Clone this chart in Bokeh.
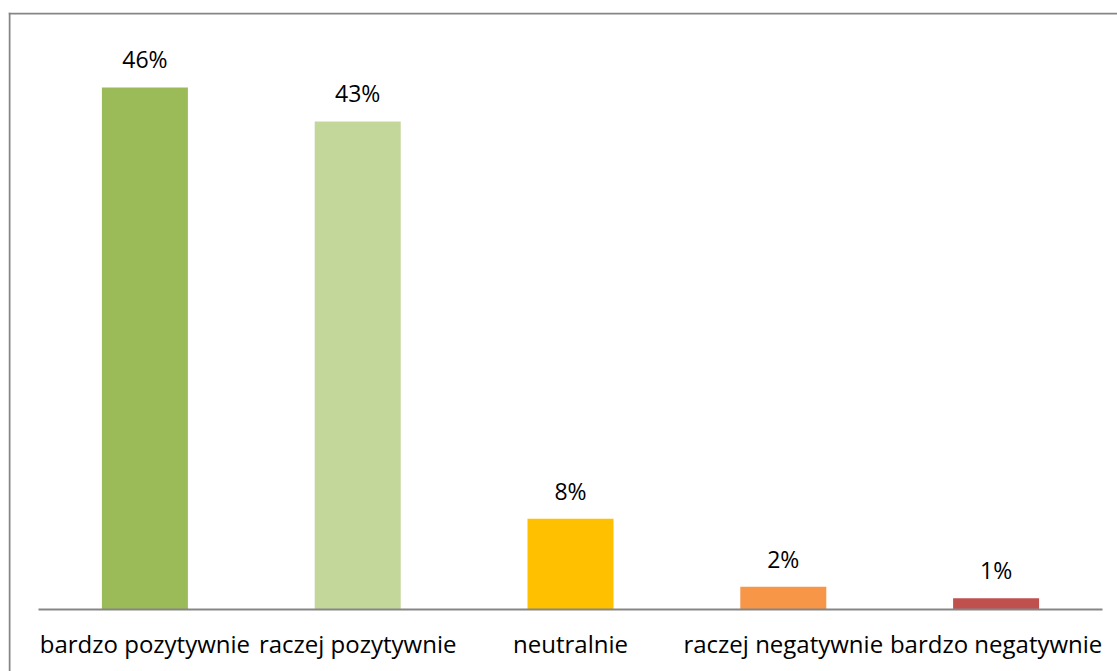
from bokeh.plotting import figure
from bokeh.models import ColumnDataSource, Span, Range1d
from bokeh.core.properties import value
from bokeh.embed import file_html
from bokeh.resources import INLINE

# Survey answers and their shares (%)
categories = ["bardzo pozytywnie", "raczej pozytywnie", "neutralnie",
              "raczej negatywnie", "bardzo negatywnie"]
shares = [46, 43, 8, 2, 1]
bar_colors = ["#9BBB59", "#C4D79B", "#FFC000", "#F79646", "#C0504D"]

W, H = 1117, 671
FRAME_LEFT, FRAME_TOP = 8, 12          # canvas px where the plotting frame starts
SLOT_PX = 212.8                         # width of one category slot in px
FIRST_CENTER_PX = 144.4                 # canvas x of the first category centre
BASE_PX = 609                           # canvas y of the zero line
PX_PER_PCT = 11.35                      # vertical scale

x_start = (FRAME_LEFT - FIRST_CENTER_PX) / SLOT_PX
x_end = (W - FIRST_CENTER_PX) / SLOT_PX
y_end = (BASE_PX - FRAME_TOP) / PX_PER_PCT
y_start = -(H - BASE_PX) / PX_PER_PCT

xs = list(range(len(categories)))
src = ColumnDataSource(dict(
    x=xs, top=shares, color=bar_colors, cat=categories,
    lbl=[f"{v}%" for v in shares], zero=[0] * len(xs),
))

p = figure(width=W, height=H, output_backend="svg", toolbar_location=None,
           x_range=Range1d(x_start, x_end), y_range=Range1d(y_start, y_end),
           min_border_left=FRAME_LEFT, min_border_top=FRAME_TOP,
           min_border_right=0, min_border_bottom=0)
p.axis.visible = False
p.grid.visible = False
p.outline_line_color = None
p.background_fill_color = "white"
p.border_fill_color = "white"

FONT = value("Open Sans")

p.vbar(x="x", top="top", bottom=0, width=86 / SLOT_PX, color="color",
       line_color=None, source=src)

# zero line under the bars
p.segment(x0=[xs[0] - 0.5], x1=[xs[-1] + 0.5], y0=[0], y1=[0],
          line_color="#868686", line_width=2)

# value labels above bars
p.text(x="x", y="top", text="lbl", source=src, text_font=FONT,
       text_font_size="23px", text_color="#000000", text_align="center",
       text_baseline="middle", y_offset=-28)

# category labels under the zero line
p.text(x="x", y="zero", text="cat", source=src, text_font=FONT,
       text_font_size="24px", text_color="#000000", text_align="center",
       text_baseline="alphabetic", y_offset=34)

# chart border (left and top edges)
border_x = (9 - FIRST_CENTER_PX) / SLOT_PX
border_y = (BASE_PX - 13) / PX_PER_PCT
p.add_layout(Span(location=border_x, dimension="height",
                  line_color="#868686", line_width=2))
p.add_layout(Span(location=border_y, dimension="width",
                  line_color="#868686", line_width=2))

open("out.html", "w").write(file_html(p, INLINE))
